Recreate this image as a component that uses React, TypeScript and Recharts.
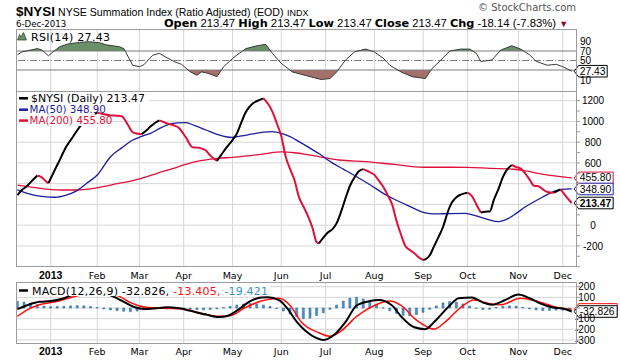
import React from 'react';
import {
  ComposedChart,
  Line,
  Area,
  Bar,
  XAxis,
  YAxis,
  CartesianGrid,
  ReferenceDot,
  ReferenceLine,
} from 'recharts';

// x = trading-day index: 0 = 10-Dec-2012 ... 250 = 6-Dec-2013
const monthTicks = [15, 36, 55, 75, 97, 119, 139, 161, 183, 203, 226, 246];
const monthLabels = ['2013', 'Feb', 'Mar', 'Apr', 'May', 'Jun', 'Jul', 'Aug', 'Sep', 'Oct', 'Nov', 'Dec'];

const nysiDays = [0, 2, 4, 6, 9, 11, 13, 14, 16, 19, 22, 25, 28, 31, 34, 36, 39, 42, 45, 47, 50, 52, 56, 58, 60, 62, 64, 67, 70, 73, 76, 79, 82, 85, 87, 90, 92, 94, 97, 99, 101, 103, 106, 109, 111, 113, 115, 117, 119, 121, 123, 125, 127, 129, 131, 133, 135, 136, 138, 140, 142, 144, 146, 148, 150, 152, 154, 156, 158, 161, 163, 165, 167, 169, 171, 173, 175, 177, 179, 181, 183, 184, 186, 188, 190, 192, 194, 196, 198, 200, 203, 205, 207, 209, 211, 213, 215, 217, 219, 221, 223, 225, 227, 229, 231, 233, 235, 237, 239, 242, 245, 247, 250];
const nysiValues = [290, 340, 370, 415, 478, 460, 420, 405, 495, 625, 755, 850, 945, 1010, 1060, 1085, 1068, 1058, 1055, 1050, 960, 895, 876, 910, 950, 985, 1010, 985, 965, 935, 845, 750, 745, 720, 670, 620, 680, 740, 820, 885, 990, 1090, 1170, 1205, 1222, 1170, 1095, 980, 860, 660, 540, 430, 270, 180, 90, -20, -165, -175, -120, -70, -40, 20, 130, 260, 380, 460, 520, 540, 520, 485, 430, 370, 290, 200, 40, -90, -200, -240, -270, -310, -335, -330, -290, -200, -110, -15, 120, 220, 270, 295, 313, 280, 200, 122, 130, 132, 250, 350, 465, 540, 580, 560, 545, 500, 440, 380, 375, 345, 320, 313, 346, 290, 213.47];

const ma50Days = [0, 7, 12, 17, 22, 26, 31, 36, 42, 47, 52, 56, 60, 64, 67, 72, 76, 80, 85, 90, 94, 97, 101, 106, 111, 115, 119, 123, 127, 131, 136, 142, 147, 153, 159, 165, 170, 175, 180, 184, 188, 195, 202, 207, 212, 217, 221, 225, 229, 233, 237, 240, 244, 247, 250];
const ma50Values = [340, 291, 275, 269, 290, 323, 400, 484, 660, 745, 821, 855, 885, 930, 962, 985, 988, 960, 917, 875, 852, 847, 860, 879, 897, 901, 885, 853, 805, 755, 690, 600, 540, 467, 390, 307, 250, 200, 150, 118, 108, 112, 114, 90, 57, 34, 60, 114, 175, 226, 272, 307, 340, 348, 348.9];

const ma200Days = [0, 7, 14, 20, 27, 33, 37, 45, 52, 57, 63, 70, 75, 82, 90, 97, 105, 112, 119, 125, 130, 136, 145, 157, 170, 183, 195, 203, 213, 224, 230, 236, 243, 250];
const ma200Values = [387, 365, 345, 339, 339, 350, 365, 400, 430, 458, 500, 545, 580, 620, 643, 654, 670, 690, 707, 698, 683, 660, 628, 612, 585, 558, 558, 557, 548, 539, 520, 495, 472, 455.8];

const rsiDays = [0, 2, 5, 9, 11, 14, 16, 19, 23, 28, 32, 37, 40, 46, 48, 52, 55, 57, 61, 64, 67, 71, 74, 78, 81, 83, 86, 90, 93, 98, 103, 108, 112, 115, 119, 124, 132, 137, 141, 144, 148, 152, 157, 161, 165, 168, 173, 178, 184, 187, 191, 195, 200, 204, 207, 209, 214, 218, 223, 227, 231, 234, 239, 243, 246, 250];
const rsiValues = [62, 68, 71, 75, 72, 60, 68, 79, 85, 88, 89.5, 87.5, 83, 79, 75, 40, 37, 41, 61, 65, 57, 47, 42, 26, 19, 26, 23, 16, 37, 58, 75, 81, 84, 65, 44, 26, 16, 10, 12, 26, 51, 68, 74, 68, 55, 40, 26, 16, 12, 33, 51, 70, 74, 74, 65, 48, 51, 72, 81, 74, 62, 48, 40, 42, 37, 27.43];

const macdDays = [0, 5, 10, 15, 21, 25, 29, 33, 37, 42, 48, 53, 58, 64, 67, 73, 78, 85, 91, 95, 100, 105, 110, 113, 118, 122, 126, 130, 135, 138, 143, 148, 153, 159, 163, 169, 173, 179, 184, 188, 195, 199, 205, 210, 214, 220, 226, 231, 236, 241, 247, 250];
const macdValues = [-10, 31, 58, 65, 92, 126, 155, 165, 150, 119, 58, 7, -10, 0, 7, -3, -27, -61, -85, -72, -10, 65, 99, 102, 75, -10, -130, -215, -283, -300, -249, -130, 24, 65, 75, 24, -78, -181, -198, -130, 24, 92, 99, 51, 31, 75, 126, 92, 41, 7, -10, -32.826];

const signalDays = [0, 5, 10, 17, 23, 28, 33, 38, 46, 51, 58, 66, 75, 82, 90, 96, 103, 110, 118, 123, 128, 136, 141, 146, 153, 161, 168, 173, 180, 188, 193, 200, 206, 213, 218, 227, 234, 243, 250];
const signalValues = [-78, -10, 31, 58, 92, 120, 140, 145, 109, 51, 7, -3, -10, -44, -78, -72, 7, 65, 92, 24, -130, -232, -265, -215, -78, 24, 65, 24, -113, -198, -130, 7, 75, 41, 31, 92, 65, 7, -13.405];

const histDays = Array.from({ length: 84 }, (_, i) => i * 3);
const histValues = [62, 55, 45, 32, 18, 12, 14, 16, 20, 22, 20, 14, 4, -8, -18, -25, -30, -34, -28, -18, -8, 0, 6, 5, 3, -4, -10, -15, -17, -14, -8, 4, 16, 28, 38, 42, 38, 28, 14, -4, -28, -55, -80, -100, -95, -70, -45, -12, 28, 65, 92, 100, 85, 58, 30, 2, -25, -50, -68, -72, -62, -40, -12, 20, 48, 60, 55, 38, 18, -2, -14, -12, 4, 14, 20, 18, 6, -8, -18, -24, -22, -20, -20, -19.4];

const lastDay = 250;
const lastNysi = 213.47;
const lastMa50 = 348.9;
const lastMa200 = 455.8;
const lastRsi = 27.43;
const lastMacd = -32.826;
const lastSignal = -13.405;

const mainTicks = [-400, -300, -200, -100, 0, 100, 200, 300, 400, 500, 600, 700, 800, 900, 1000, 1100, 1200];
const mainLabels = [-200, 0, 600, 800, 1000, 1200];
const mainGrid = [-200, 0, 200, 400, 600, 800, 1000, 1200];
const rsiTicks = [10, 30, 50, 70, 90];
const rsiLabels = [10, 50, 70, 90];
const macdTicks = [-300, -200, -100, 0, 100, 200];
const macdLabels = [-300, -200, -100, 100, 200];

// ---------- styling / layout ----------
const SANS = "'Liberation Sans', Arial, sans-serif";
const VERD = "'DejaVu Sans', Verdana, sans-serif";
const PLOT_R = 577;
const X_DOMAIN: [number, number] = [-0.65, 252.4];
const MAIN_DOMAIN: [number, number] = [-403, 1293];
const RSI_DOMAIN: [number, number] = [-14.2, 116.3];
const MACD_DOMAIN: [number, number] = [-328, 244];
const GRID = '#d6d6d6';
const BORDER = '#9c9c9c';
const RED = '#e0103a';
const NAVY = '#1c1ca0';
const GREEN = '#6a906a';
const BROWN = '#a4706a';

const zip = (xs: number[], ys: number[]) => xs.map((d, i) => ({ d, v: ys[i] }));
const nysiData = zip(nysiDays, nysiValues);
const ma50Data = zip(ma50Days, ma50Values);
const ma200Data = zip(ma200Days, ma200Values);
const rsiData = zip(rsiDays, rsiValues);
const macdData = zip(macdDays, macdValues);
const signalData = zip(signalDays, signalValues);
const histData = zip(histDays, histValues);

type Pt = { d: number; v: number };
function splitRuns(pts: Pt[]) {
  const runs: { up: boolean; pts: Pt[] }[] = [];
  let cur: Pt[] = [pts[0]];
  let dir: boolean | null = null;
  for (let i = 1; i < pts.length; i++) {
    const up = pts[i].v >= pts[i - 1].v;
    if (dir === null || up === dir) {
      cur.push(pts[i]);
      dir = up;
    } else {
      runs.push({ up: dir, pts: cur });
      cur = [pts[i - 1], pts[i]];
      dir = up;
    }
  }
  runs.push({ up: !!dir, pts: cur });
  return runs;
}
const nysiRuns = splitRuns(nysiData);

const rsiMax = Math.max(...rsiValues);
const rsiMin = Math.min(...rsiValues);
const o70 = (rsiMax - 70) / (rsiMax - rsiMin);
const o30 = (rsiMax - 30) / (rsiMax - rsiMin);

const makeMonthTick = (ty: number) => (p: any) => {
  const i = monthTicks.indexOf(p.payload.value);
  const first = i === 0;
  return (
    <text
      x={p.x}
      y={ty}
      textAnchor="middle"
      fontFamily={first ? SANS : VERD}
      fontSize={first ? 10.5 : 9.5}
      fontWeight={first ? 'bold' : 'normal'}
      fill="#000"
    >
      {monthLabels[i] ?? ''}
    </text>
  );
};

const makeYTick = (labels: number[], anchor: string, tx: number, mark: boolean, dy = 3.6) => (p: any) => {
  const v = p.payload.value;
  return (
    <g>
      {mark && <line x1={PLOT_R} x2={PLOT_R + 3} y1={p.y} y2={p.y} stroke="#999" />}
      {labels.includes(v) && (
        <text x={tx} y={p.y + (v === 10 ? dy + 1.2 : dy)} textAnchor={anchor as any} fontFamily={SANS} fontSize={10} fill="#000">
          {v}
        </text>
      )}
    </g>
  );
};

const Tag = (props: any) => {
  const { cx, cy, label, color, bold, w } = props;
  if (cx == null || cy == null) return null;
  const x0 = cx + 2.5;
  const h = 5.8;
  const d = `M${x0},${cy} L${x0 + 4.5},${cy - h} L${x0 + w},${cy - h} L${x0 + w},${cy + h} L${x0 + 4.5},${cy + h} Z`;
  return (
    <g>
      <path d={d} fill="#fff" stroke={color} strokeWidth={1} />
      <text x={x0 + 5.5} y={cy + 3.6} fontFamily={SANS} fontSize={10.3} fontWeight={bold ? 'bold' : 'normal'} fill="#000">
        {label}
      </text>
    </g>
  );
};

const commonX = (extra: any) => (
  <XAxis
    dataKey="d"
    type="number"
    domain={X_DOMAIN}
    allowDataOverflow
    ticks={monthTicks}
    interval={0}
    axisLine={false}
    tickLine={false}
    {...extra}
  />
);

export default function App() {
  return (
    <div style={{ position: 'absolute', left: 0, top: 0, width: 620, height: 360, background: '#fff', overflow: 'hidden' }}>
      {/* RSI panel */}
      <div style={{ position: 'absolute', left: 0, top: 29 }}>
        <ComposedChart width={620} height={62} data={rsiData} margin={{ top: 0, right: 0, bottom: 0, left: 16 }}>
          <defs>
            <linearGradient id="rsiFill" x1="0" y1="0" x2="0" y2="1">
              <stop offset={0} stopColor={GREEN} />
              <stop offset={o70} stopColor={GREEN} />
              <stop offset={o70} stopColor={GREEN} stopOpacity={0} />
              <stop offset={o30} stopColor={BROWN} stopOpacity={0} />
              <stop offset={o30} stopColor={BROWN} />
              <stop offset={1} stopColor={BROWN} />
            </linearGradient>
          </defs>
          {commonX({ hide: true })}
          <YAxis
            orientation="right"
            width={43}
            domain={RSI_DOMAIN}
            allowDataOverflow
            ticks={rsiTicks}
            interval={0}
            axisLine={false}
            tickLine={false}
            tick={makeYTick(rsiLabels, 'start', 580, false)}
          />
          <CartesianGrid horizontal={false} verticalValues={monthTicks} stroke={GRID} />
          <ReferenceLine y={70} stroke="#7c7c7c" />
          <ReferenceLine y={50} stroke="#7c7c7c" strokeDasharray="7 2 1 2" />
          <ReferenceLine y={30} stroke="#7c7c7c" />
          <Area dataKey="v" baseValue={50} type="linear" stroke="none" fill="url(#rsiFill)" fillOpacity={1} isAnimationActive={false} />
          <Line dataKey="v" type="linear" stroke="#3a3a3a" strokeWidth={1} dot={false} isAnimationActive={false} />
          <ReferenceDot
            x={lastDay}
            y={lastRsi}
            r={0}
            ifOverflow="visible"
            shape={(p: any) => <Tag cx={p.cx} cy={p.cy} label={lastRsi.toFixed(2)} color="#000" w={33} />}
          />
        </ComposedChart>
      </div>

      {/* Main panel */}
      <div style={{ position: 'absolute', left: 0, top: 91 }}>
        <ComposedChart width={620} height={191} margin={{ top: 0, right: 0, bottom: 0, left: 16 }}>
          {commonX({ height: 15, tick: makeMonthTick(187.5) })}
          <YAxis
            orientation="right"
            width={43}
            domain={MAIN_DOMAIN}
            allowDataOverflow
            ticks={mainTicks}
            interval={0}
            axisLine={false}
            tickLine={false}
            tick={makeYTick(mainLabels, 'middle', 593, true)}
          />
          <CartesianGrid horizontalValues={mainGrid} verticalValues={monthTicks} stroke={GRID} />
          <Line data={ma200Data} dataKey="v" type="monotone" stroke={RED} strokeWidth={1.3} dot={false} isAnimationActive={false} />
          <Line data={ma50Data} dataKey="v" type="monotone" stroke={NAVY} strokeWidth={1.3} dot={false} isAnimationActive={false} />
          {nysiRuns.map((r, i) => (
            <Line
              key={'n' + i}
              data={r.pts}
              dataKey="v"
              type="monotone"
              stroke={r.up ? '#000' : RED}
              strokeWidth={2}
              dot={false}
              isAnimationActive={false}
            />
          ))}
          <ReferenceDot x={lastDay} y={lastMa200} r={0} ifOverflow="visible"
            shape={(p: any) => <Tag cx={p.cx} cy={p.cy} label={lastMa200.toFixed(2)} color={RED} w={39} />} />
          <ReferenceDot x={lastDay} y={lastMa50} r={0} ifOverflow="visible"
            shape={(p: any) => <Tag cx={p.cx} cy={p.cy} label={lastMa50.toFixed(2)} color={NAVY} w={39} />} />
          <ReferenceDot x={lastDay} y={lastNysi} r={0} ifOverflow="visible"
            shape={(p: any) => <Tag cx={p.cx} cy={p.cy} label={lastNysi.toFixed(2)} color="#000" w={39} bold />} />
        </ComposedChart>
      </div>

      {/* MACD panel */}
      <div style={{ position: 'absolute', left: 0, top: 282 }}>
        <ComposedChart width={620} height={78} data={histData} margin={{ top: 0, right: 0, bottom: 0, left: 16 }}>
          {commonX({ height: 17, tick: makeMonthTick(73) })}
          <YAxis
            orientation="right"
            width={43}
            domain={MACD_DOMAIN}
            allowDataOverflow
            ticks={macdTicks}
            interval={0}
            axisLine={false}
            tickLine={false}
            tick={makeYTick(macdLabels, 'end', 595, true)}
          />
          <CartesianGrid horizontalValues={macdTicks} verticalValues={monthTicks} stroke={GRID} />
          <Bar dataKey="v" barSize={6} fill="#4f95c9" stroke="#2d6b9e" strokeWidth={0.6} isAnimationActive={false} />
          <Line data={signalData} dataKey="v" type="monotone" stroke="#ff1010" strokeWidth={1.5} dot={false} isAnimationActive={false} />
          <Line data={macdData} dataKey="v" type="monotone" stroke="#000" strokeWidth={2} dot={false} isAnimationActive={false} />
          <ReferenceDot x={lastDay} y={lastSignal} r={0} ifOverflow="visible"
            shape={(p: any) => <Tag cx={p.cx} cy={p.cy} label="" color="#ff1010" w={43} />} />
          <ReferenceDot x={lastDay} y={lastMacd} r={0} ifOverflow="visible"
            shape={(p: any) => <Tag cx={p.cx} cy={p.cy} label={lastMacd.toFixed(3)} color="#000" w={43} />} />
        </ComposedChart>
      </div>

      {/* Overlay: header, legends, panel borders */}
      <svg width={620} height={360} style={{ position: 'absolute', left: 0, top: 0, pointerEvents: 'none' }}>
        <text x={16} y={16} fontFamily={SANS} fontSize={13.5} fontWeight="bold" fill="#000">$NYSI</text>
        <text x={58} y={16} fontFamily={SANS} fontSize={10.6} fill="#000">NYSE Summation Index (Ratio Adjusted) (EOD)</text>
        <text x={287} y={16} fontFamily={SANS} fontSize={9} fill="#000">INDX</text>
        <text x={478} y={11} fontFamily={VERD} fontSize={10} fill="#555">© StockCharts.com</text>
        <text x={16} y={26.5} fontFamily={VERD} fontSize={8.6} fill="#000">6-Dec-2013</text>
        <text x={164} y={26.5} fontFamily={SANS} fontSize={11.3} fill="#000" xmlSpace="preserve">
          <tspan fontFamily={VERD} fontWeight="bold">Open</tspan>
          <tspan> 213.47 </tspan>
          <tspan fontFamily={VERD} fontWeight="bold">High</tspan>
          <tspan> 213.47 </tspan>
          <tspan fontFamily={VERD} fontWeight="bold">Low</tspan>
          <tspan> 213.47 </tspan>
          <tspan fontFamily={VERD} fontWeight="bold">Close</tspan>
          <tspan> 213.47 </tspan>
          <tspan fontFamily={VERD} fontWeight="bold">Chg</tspan>
          <tspan> -18.14 (-7.83%) </tspan>
          <tspan fill="#8b0a2a" fontSize={9}>▼</tspan>
        </text>

        {/* RSI legend */}
        <path d="M17.5,40 L19.5,34.5 L21,37 L23.5,32.5 L26.5,40 Z" fill={GREEN} stroke="#2f4f2f" strokeWidth={0.8} />
        <text x={31} y={40.5} fontFamily={VERD} fontSize={11} fill="#000" textLength={79} lengthAdjust="spacing">RSI(14) 27.43</text>

        {/* Main legend */}
        <rect x={17} y={92} width={132} height={11.5} fill="#fff" />
        <rect x={17} y={103.5} width={78} height={11.2} fill="#fff" />
        <rect x={17} y={114.7} width={83} height={11.3} fill="#fff" />
        <line x1={19} x2={28} y1={98.3} y2={98.3} stroke="#000" strokeWidth={2.5} />
        <text x={31} y={101.7} fontFamily={VERD} fontSize={11} fill="#000">$NYSI (Daily) 213.47</text>
        <line x1={19} x2={28} y1={109.7} y2={109.7} stroke={NAVY} strokeWidth={2.5} />
        <text x={29.5} y={112.8} fontFamily={VERD} fontSize={10.3} fill={NAVY}>MA(50) 348.90</text>
        <line x1={19} x2={28} y1={120.6} y2={120.6} stroke={RED} strokeWidth={2.5} />
        <text x={29.5} y={124.2} fontFamily={VERD} fontSize={10.3} fill={RED}>MA(200) 455.80</text>

        {/* MACD legend */}
        <rect x={17} y={284} width={253} height={12} fill="#fff" />
        <line x1={19} x2={28} y1={290.5} y2={290.5} stroke="#000" strokeWidth={2.5} />
        <text x={32} y={294.5} fontFamily={VERD} fontSize={11} fill="#000" xmlSpace="preserve" textLength={236} lengthAdjust="spacing">
          <tspan>MACD(12,26,9) -32.826, </tspan>
          <tspan fill="#ff1010">-13.405, </tspan>
          <tspan fill="#3a8fc8">-19.421</tspan>
        </text>

        {/* panel borders */}
        <rect x={16.5} y={29.5} width={560} height={62} fill="none" stroke={BORDER} />
        <rect x={16.5} y={91.5} width={560} height={175} fill="none" stroke={BORDER} />
        <rect x={16.5} y={282.5} width={560} height={61} fill="none" stroke={BORDER} />
      </svg>
    </div>
  );
}
